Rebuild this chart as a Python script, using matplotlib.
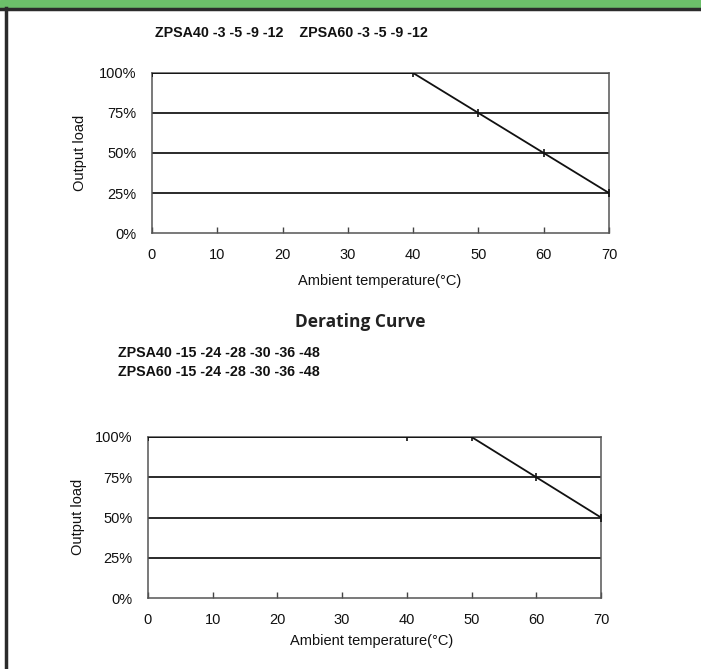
"""Derating curves for the ZPSA40 / ZPSA60 series."""

import matplotlib.pyplot as plt
from matplotlib.patches import Rectangle
from matplotlib.lines import Line2D

plt.rcParams["font.family"] = ["Liberation Sans", "DejaVu Sans"]

W, H = 701, 669

# data
temp_low = [0, 40, 50, 60, 70]
load_low = [100, 100, 75, 50, 25]
temp_high = [0, 40, 50, 60, 70]
load_high = [100, 100, 100, 75, 50]

x_ticks = [0, 10, 20, 30, 40, 50, 60, 70]
y_ticks = [0, 25, 50, 75, 100]
y_labels = ["0%", "25%", "50%", "75%", "100%"]

header_low = "ZPSA40 -3 -5 -9 -12    ZPSA60 -3 -5 -9 -12"
header_high = ["ZPSA40 -15 -24 -28 -30 -36 -48", "ZPSA60 -15 -24 -28 -30 -36 -48"]


def px(x, y):
    return x / W, 1 - y / H


def make_axes(fig, left, top, right, bottom, temps, loads):
    x0, y0 = px(left, bottom)
    ax = fig.add_axes([x0, y0, (right - left) / W, (bottom - top) / H])
    for y in y_ticks[1:]:
        ax.axhline(y, color="#2a2a2a", linewidth=1.4, zorder=1)
    ax.plot(temps, loads, color="#111111", linewidth=1.3, marker="|",
            markersize=6, markeredgewidth=1.2, zorder=3)
    ax.set_xlim(0, 70)
    ax.set_ylim(0, 100)
    ax.set_xticks(x_ticks)
    ax.set_yticks(y_ticks)
    ax.set_yticklabels(y_labels)
    ax.tick_params(axis="x", direction="in", length=4, width=1, pad=11,
                   labelsize=10.5, color="#444444", labelcolor="#111111")
    ax.tick_params(axis="y", length=0, pad=11, labelsize=10.5,
                   labelcolor="#111111")
    for s in ax.spines.values():
        s.set_color("#555555")
        s.set_linewidth(1.1)
    return ax


fig = plt.figure(figsize=(W / 100, H / 100), dpi=100)

# page frame: green band, dark rule, left border
fig.patches.append(Rectangle(px(0, 7), 1, 7 / H, transform=fig.transFigure,
                             color="#6cc06a", zorder=0))
fig.lines.append(Line2D([0, 1], [1 - 8.5 / H] * 2, transform=fig.transFigure,
                        color="#2b2b2b", linewidth=2.5))
fig.lines.append(Line2D([6 / W] * 2, [0, 1 - 8 / H], transform=fig.transFigure,
                        color="#2b2b2b", linewidth=2.5))

fig.text(*px(155, 33), header_low, fontsize=10.3, fontweight="bold",
         ha="left", va="center", color="#111111")

make_axes(fig, 152, 73, 609, 233, temp_low, load_low)
fig.text(*px(80, 153), "Output load", rotation=90, fontsize=10.5,
         ha="center", va="center", color="#111111")
fig.text(*px(380, 281), "Ambient temperature(°C)", fontsize=10.5,
         ha="center", va="center", color="#111111")

fig.text(*px(360, 322), "Derating Curve", fontsize=12.5, fontweight="bold",
         family=["Open Sans", "DejaVu Sans"], ha="center", va="center",
         color="#222222")
fig.text(*px(118, 353), header_high[0], fontsize=10.3, fontweight="bold",
         ha="left", va="center", color="#111111")
fig.text(*px(118, 372), header_high[1], fontsize=10.3, fontweight="bold",
         ha="left", va="center", color="#111111")

make_axes(fig, 148, 437, 601, 598, temp_high, load_high)
fig.text(*px(78, 517), "Output load", rotation=90, fontsize=10.5,
         ha="center", va="center", color="#111111")
fig.text(*px(372, 641), "Ambient temperature(°C)", fontsize=10.5,
         ha="center", va="center", color="#111111")

fig.savefig("out.png", dpi=100)
